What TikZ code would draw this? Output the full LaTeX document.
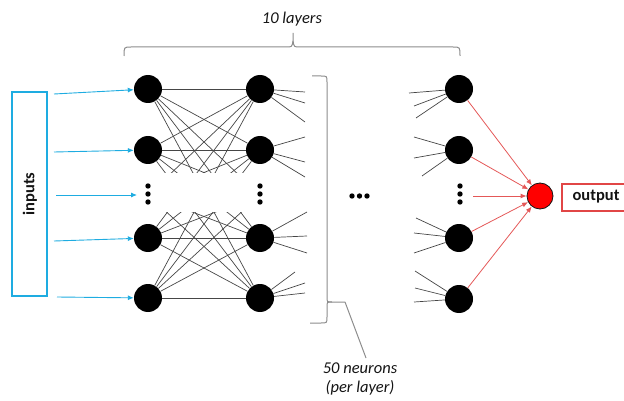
\documentclass[tikz,border=0pt]{standalone}
\usepackage{fontspec}
\setmainfont{Carlito}
\usetikzlibrary{arrows.meta}
\definecolor{inblue}{RGB}{30,172,225}
\definecolor{outred}{RGB}{228,88,88}
\definecolor{boxred}{RGB}{225,70,70}
\definecolor{wire}{RGB}{70,70,70}
\definecolor{bracegray}{RGB}{140,140,140}
\definecolor{ink}{RGB}{20,20,20}
\begin{document}
\begin{tikzpicture}[x=1pt,y=-1pt,
  neuron/.style={circle,fill=black,inner sep=0pt,minimum size=28pt},
  dotmark/.style={circle,fill=black,inner sep=0pt,minimum size=5.4pt},
  wireline/.style={draw=wire,line width=0.7pt},
  inarrow/.style={draw=inblue,line width=0.9pt,-{Latex[length=6pt,width=5pt]}},
  outarrow/.style={draw=outred,line width=0.8pt,-{Latex[length=6pt,width=5pt]}},
  bracepath/.style={draw=bracegray,line width=1pt},
  lbl/.style={text=ink,font=\fontsize{16.5pt}{19pt}\selectfont},
]
\useasboundingbox (0,0) rectangle (624,401);
\clip (0,0) rectangle (624,401);

% input box
\node[draw=inblue,line width=1.6pt,minimum width=35pt,minimum height=204pt,inner sep=0pt] (inbox) at (29.5,194) {};
\node[lbl,font=\fontsize{16.5pt}{19pt}\selectfont\bfseries,rotate=90] (inlabel) at (30,194) {inputs};

% first layer (a3 is the elided middle)
\node[neuron] (a1) at (148,89) {};
\node[neuron] (a2) at (148,150) {};
\coordinate (a3) at (148,195);
\node[neuron] (a4) at (148,238) {};
\node[neuron] (a5) at (148,298) {};
% second layer
\node[neuron] (b1) at (260,89) {};
\node[neuron] (b2) at (260,150) {};
\coordinate (b3) at (260,195);
\node[neuron] (b4) at (260,238) {};
\node[neuron] (b5) at (260,298) {};
% last hidden layer
\node[neuron] (d1) at (459,89) {};
\node[neuron] (d2) at (459,150) {};
\node[neuron] (d4) at (459,238) {};
\node[neuron] (d5) at (459,299) {};
% output neuron and label
\node[circle,fill=red,draw=ink,line width=0.8pt,inner sep=0pt,minimum size=26pt] (out) at (540,196) {};
\node[draw=boxred,line width=2pt,minimum height=27pt,minimum width=70pt,anchor=west,inner sep=0pt] (outbox) at (561,197.5) {};
\node[lbl,font=\fontsize{16.5pt}{19pt}\selectfont\bfseries] (outlabel) at (596,197) {output};

% vertical ellipses inside the layers
\foreach \n/\x in {p/148,q/260,r/460}{
  \node[dotmark] (\n1) at (\x,186) {};
  \node[dotmark] (\n2) at (\x,194) {};
  \node[dotmark] (\n3) at (\x,202) {};
}
% horizontal ellipsis between the layers
\node[dotmark] (h1) at (352,196) {};
\node[dotmark] (h2) at (359.5,196) {};
\node[dotmark] (h3) at (367,196) {};

% full connections between the first two layers, cut around the ellipsis
\begin{scope}
  \clip (0,0) rectangle (624,173) (0,212) rectangle (624,401);
  \foreach \i in {1,...,5}{
    \foreach \j in {1,...,5}{
      \ifnum\i=3 \ifnum\j=3 \else \draw[wireline] (a\i) -- (b\j); \fi
      \else \draw[wireline] (a\i) -- (b\j); \fi
    }
  }
\end{scope}

% outgoing stubs of the second layer
\foreach \k/\x/\y in {1/305/92,2/305/103,3/305/122,4/305/137,5/305/162,6/305/177,
                      7/307/212,8/307/236,9/307/253,10/295/272,11/305/283,12/305/293}
  \coordinate (s\k) at (\x,\y);
\foreach \k/\n in {1/b1,2/b1,3/b1,4/b2,5/b2,6/b2,7/b4,8/b4,9/b4,10/b5,11/b5,12/b5}
  \draw[wireline] (\n) -- (s\k);

% incoming stubs of the last layer
\foreach \k/\x/\y in {1/409/93,2/414/106,3/416/118,4/414/137,5/414/158,6/422/176,
                      7/416/218,8/414/233,9/414/253,10/415/271,11/415/288,12/414/302}
  \coordinate (t\k) at (\x,\y);
\foreach \k/\n in {1/d1,2/d1,3/d1,4/d2,5/d2,6/d2,7/d4,8/d4,9/d4,10/d5,11/d5,12/d5}
  \draw[wireline] (t\k) -- (\n);

% input arrows
\coordinate (i1) at (54,94);
\coordinate (i2) at (54,152);
\coordinate (i3) at (56,195);
\coordinate (i4) at (54,241);
\coordinate (i5) at (57,297);
\coordinate (a3in) at (137,195);
\draw[inarrow] (i1) -- (a1);
\draw[inarrow] (i2) -- (a2);
\draw[inarrow] (i3) -- (a3in);
\draw[inarrow] (i4) -- (a4);
\draw[inarrow] (i5) -- (a5);

% arrows into the output neuron
\coordinate (d3out) at (473,196);
\draw[outarrow] (d1) -- (out);
\draw[outarrow] (d2) -- (out);
\draw[outarrow] (d3out) -- (out);
\draw[outarrow] (d4) -- (out);
\draw[outarrow] (d5) -- (out);

% brace over the layers
\draw[bracepath] (124,56) .. controls (124,47) .. (131,47) -- (286,47)
  .. controls (292,47) .. (293,41) -- (293,33);
\draw[bracepath] (293,41) .. controls (294,47) .. (300,47) -- (453,47)
  .. controls (460,47) .. (460,56);
\node[lbl,font=\fontsize{16.5pt}{19pt}\selectfont\itshape] (layers) at (292,19) {10 layers};

% brace along the neurons of a layer
\coordinate (btip) at (345,302);
\coordinate (bnote) at (366,358);
\draw[bracepath] (312,76) -- (321,76) .. controls (327,76) .. (327,82) -- (327,297)
  .. controls (327,302) .. (332,302) -- (btip);
\draw[bracepath] (332,302) .. controls (327,302) .. (327,307) -- (327,317)
  .. controls (327,323) .. (321,323) -- (310,323);
\draw[bracepath] (btip) -- (bnote);
\node[lbl,font=\fontsize{16.5pt}{19pt}\selectfont\itshape,align=center] (neurons) at (360,379) {50 neurons\\(per layer)};
\end{tikzpicture}
\end{document}
